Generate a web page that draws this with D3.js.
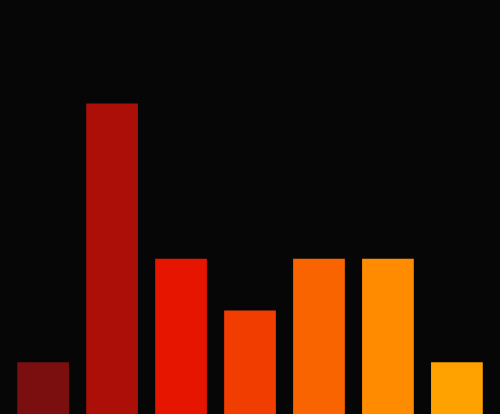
<!DOCTYPE html>
<html>
<head>
<meta charset="utf-8">
<script src="https://cdn.jsdelivr.net/npm/d3@7"></script>
<style>
  html, body { margin: 0; padding: 0; background: #060607; }
  svg { display: block; }
</style>
</head>
<body>
<div id="chart"></div>
<script>
// chart data
const categories = ["A", "B", "C", "D", "E", "F", "G"];
const values = [1, 6, 3, 2, 3, 3, 1];
const colors = ["#7b0e0e", "#ab0f07", "#e61500", "#f23d00", "#f96400", "#ff8c00", "#ffa200"];

let width = 500,
    height = 414;

let svg = d3.select("#chart")
    .append("svg")
        .attr("width", width)
        .attr("height", height);

svg.append("rect")
    .attr("width", width)
    .attr("height", height)
    .attr("fill", "#060607");

let x = d3.scaleBand()
    .domain(categories)
    .range([0, width])
    .paddingInner(0.25)
    .paddingOuter(0.25);

let y = d3.scaleLinear()
    .domain([0, 8])
    .range([height, 0]);

svg.append("g")
    .selectAll("rect")
    .data(values)
    .enter()
    .append("rect")
        .attr("x", (d, i) => x(categories[i]))
        .attr("y", d => y(d))
        .attr("width", x.bandwidth())
        .attr("height", d => height - y(d))
        .attr("fill", (d, i) => colors[i]);
</script>
</body>
</html>
